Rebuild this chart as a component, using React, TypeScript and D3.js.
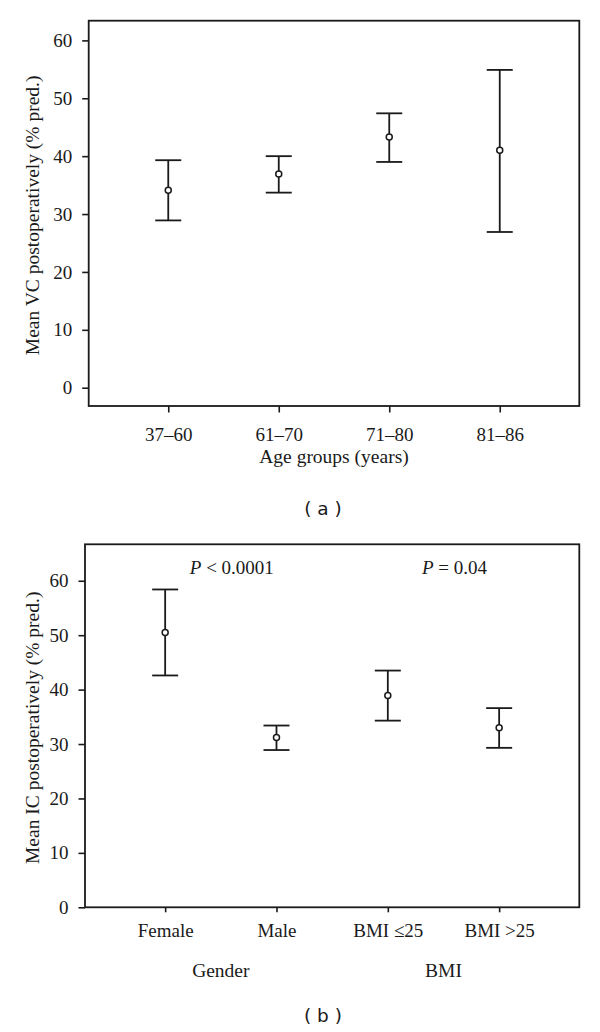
import React, { useEffect, useRef } from 'react';
import * as d3 from 'd3';

// ---- Data ----
const ageGroups = ['37–60', '61–70', '71–80', '81–86'];
const vcMean = [34.1, 36.9, 43.3, 41.0];
const vcLower = [28.9, 33.7, 39.0, 26.9];
const vcUpper = [39.3, 40.0, 47.4, 54.9];

const icCategories = ['Female', 'Male', 'BMI ≤25', 'BMI >25'];
const icMean = [50.5, 31.2, 38.9, 33.0];
const icLower = [42.6, 28.9, 34.3, 29.3];
const icUpper = [58.4, 33.4, 43.5, 36.6];

const yTicks = [0, 10, 20, 30, 40, 50, 60];
const groupNames = ['Gender', 'BMI'];
const groupMembers = [['Female', 'Male'], ['BMI ≤25', 'BMI >25']];
const pValues = ['< 0.0001', '= 0.04'];

const SERIF = '"Liberation Serif", "Times New Roman", serif';
const SANS = '"DejaVu Sans", Verdana, sans-serif';
const INK = '#1a1a1a';
const FS = 19;

export default function App() {
  const ref = useRef<SVGSVGElement>(null);

  useEffect(() => {
    const svg = d3.select(ref.current);
    svg.selectAll('*').remove();

    type Panel = {
      left: number; right: number; top: number; bottom: number;
      domain: [number, number];
      cats: string[]; mean: number[]; lo: number[]; hi: number[];
      yLabel: string; xTickSize: number; xTickPad: number;
    };

    const drawPanel = (p: Panel) => {
      const g = svg.append('g');
      const x = d3.scalePoint<string>().domain(p.cats).range([p.left, p.right]).padding(0.72);
      const y = d3.scaleLinear().domain(p.domain).range([p.bottom, p.top]);

      // Y axis
      const ya = g.append('g').attr('transform', `translate(${p.left},0)`)
        .call(d3.axisLeft(y).tickValues(yTicks).tickSize(6.5).tickPadding(10).tickSizeOuter(0));
      ya.select('.domain').remove();
      ya.selectAll('line').attr('stroke', INK).attr('stroke-width', 1.6);
      ya.selectAll('text').attr('font-family', SERIF).attr('font-size', FS).attr('fill', INK);

      // X axis
      const xa = g.append('g').attr('transform', `translate(0,${p.bottom})`)
        .call(d3.axisBottom(x).tickSize(p.xTickSize).tickPadding(p.xTickPad).tickSizeOuter(0));
      xa.select('.domain').remove();
      xa.selectAll('line').attr('stroke', INK).attr('stroke-width', 1.6);
      xa.selectAll('text').attr('font-family', SERIF).attr('font-size', FS).attr('fill', INK);

      // Frame
      g.append('rect')
        .attr('x', p.left).attr('y', p.top)
        .attr('width', p.right - p.left).attr('height', p.bottom - p.top)
        .attr('fill', 'none').attr('stroke', INK).attr('stroke-width', 1.8);

      // Error bars
      const capHalf = 13;
      p.cats.forEach((c, i) => {
        const cx = x(c)!;
        g.append('line').attr('x1', cx).attr('x2', cx).attr('y1', y(p.lo[i])).attr('y2', y(p.hi[i]))
          .attr('stroke', INK).attr('stroke-width', 1.8);
        [p.lo[i], p.hi[i]].forEach((v) => {
          g.append('line').attr('x1', cx - capHalf).attr('x2', cx + capHalf).attr('y1', y(v)).attr('y2', y(v))
            .attr('stroke', INK).attr('stroke-width', 1.8);
        });
        g.append('circle').attr('cx', cx).attr('cy', y(p.mean[i])).attr('r', 3)
          .attr('fill', 'white').attr('stroke', INK).attr('stroke-width', 1.5);
      });

      // Y label
      g.append('text')
        .attr('transform', `translate(39,${(p.top + p.bottom) / 2 + 2}) rotate(-90)`)
        .attr('text-anchor', 'middle')
        .attr('font-family', SERIF).attr('font-size', 19.5).attr('fill', INK)
        .text(p.yLabel);

      return { x, y };
    };

    // Panel (a)
    drawPanel({
      left: 88.7, right: 579.3, top: 20.7, bottom: 406,
      domain: [-3.16, 63.4],
      cats: ageGroups, mean: vcMean, lo: vcLower, hi: vcUpper,
      yLabel: 'Mean VC postoperatively (% pred.)', xTickSize: 6.5, xTickPad: 15,
    });
    svg.append('text').attr('x', 334).attr('y', 463).attr('text-anchor', 'middle')
      .attr('font-family', SERIF).attr('font-size', 19.5).attr('fill', INK)
      .text('Age groups (years)');
    svg.append('text').attr('x', 323).attr('y', 515).attr('text-anchor', 'middle')
      .attr('font-family', SANS).attr('font-size', 18.5).attr('fill', INK)
      .text('( a )');

    // Panel (b)
    const { x: xb } = drawPanel({
      left: 85, right: 579.3, top: 544.3, bottom: 907.3,
      domain: [0, 66.7],
      cats: icCategories, mean: icMean, lo: icLower, hi: icUpper,
      yLabel: 'Mean IC postoperatively (% pred.)', xTickSize: 5, xTickPad: 11,
    });

    groupNames.forEach((name, gi) => {
      const mid = d3.mean(groupMembers[gi].map((c) => xb(c)!))!;
      svg.append('text').attr('x', mid).attr('y', 977).attr('text-anchor', 'middle')
        .attr('font-family', SERIF).attr('font-size', 19.5).attr('fill', INK)
        .text(name);
      const t = svg.append('text').attr('x', mid + 11).attr('y', 574).attr('text-anchor', 'middle')
        .attr('font-family', SERIF).attr('font-size', 19).attr('fill', INK);
      t.append('tspan').attr('font-style', 'italic').text('P');
      t.append('tspan').text(' ' + pValues[gi]);
    });

    svg.append('text').attr('x', 323).attr('y', 1022).attr('text-anchor', 'middle')
      .attr('font-family', SANS).attr('font-size', 18.5).attr('fill', INK)
      .text('( b )');
  }, []);

  return (
    <svg
      ref={ref}
      width={600}
      height={1032}
      style={{ position: 'absolute', left: 0, top: 0, background: 'white' }}
    />
  );
}
